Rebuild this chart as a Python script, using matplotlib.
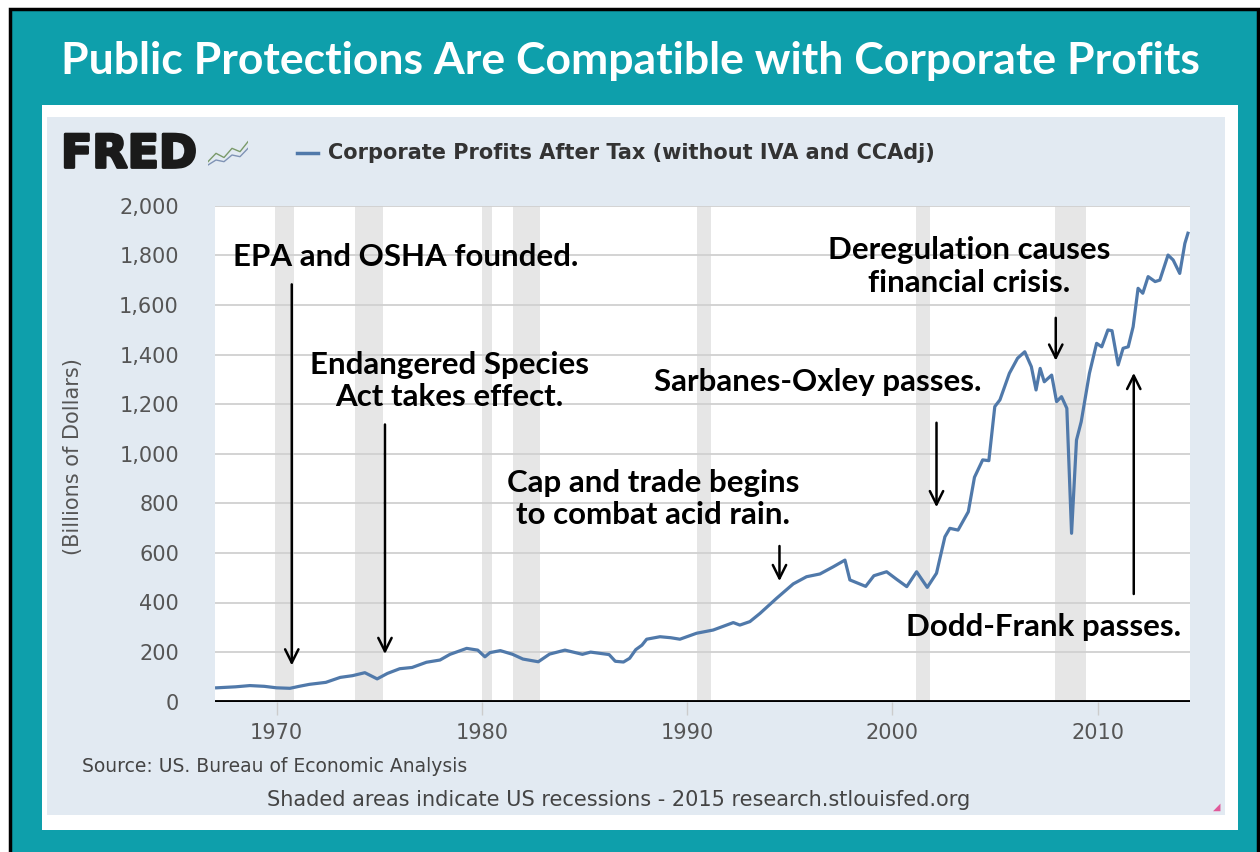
import matplotlib.pyplot as plt
import matplotlib.patheffects as pe
from matplotlib.patches import Rectangle

# corporate profits after tax, billions of dollars
years = [1967.08, 1968.0, 1968.7, 1969.4, 1970.0, 1970.65, 1971.1, 1971.6, 1972.4, 1973.1,
         1973.7, 1974.3, 1974.9, 1975.4, 1976.0, 1976.6, 1977.3, 1977.96, 1978.45, 1979.26,
         1979.8, 1980.15, 1980.4, 1980.9, 1981.5, 1982.0, 1982.75, 1983.3, 1984.05, 1984.9,
         1985.3, 1985.75, 1986.2, 1986.5, 1986.9, 1987.2, 1987.5, 1987.8, 1988.03, 1988.68,
         1989.2, 1989.65, 1990.46, 1991.27, 1992.25, 1992.57, 1993.06, 1993.55, 1994.36, 1995.17,
         1995.82, 1996.47, 1997.12, 1997.69, 1997.93, 1998.7, 1999.1, 1999.72, 2000.2, 2000.7,
         2001.18, 2001.7, 2002.15, 2002.56, 2002.8, 2003.2, 2003.7, 2004.0, 2004.4, 2004.7,
         2004.99, 2005.24, 2005.7, 2006.1, 2006.45, 2006.77, 2007.0, 2007.2, 2007.4, 2007.76,
         2008.0, 2008.24, 2008.5, 2008.73, 2008.97, 2009.2, 2009.6, 2009.95, 2010.2, 2010.5,
         2010.7, 2011.0, 2011.24, 2011.49, 2011.73, 2011.97, 2012.2, 2012.46, 2012.8, 2013.03,
         2013.43, 2013.68, 2014.0, 2014.25, 2014.4]
profits = [56, 60, 65, 62, 56, 54, 62, 70, 78, 98,
           105, 117, 92, 114, 133, 138, 159, 168, 191, 215,
           208, 181, 198, 206, 191, 172, 161, 192, 208, 191,
           200, 195, 190, 163, 160, 175, 210, 228, 252, 262,
           258, 252, 276, 289, 319, 309, 323, 356, 417, 475,
           504, 515, 544, 571, 491, 465, 508, 524, 494, 464,
           524, 461, 518, 665, 699, 692, 766, 905, 975, 972,
           1190, 1217, 1324, 1385, 1411, 1351, 1257, 1344, 1290, 1317,
           1210, 1230, 1183, 679, 1055, 1129, 1324, 1445, 1431, 1499,
           1496, 1358, 1425, 1431, 1512, 1667, 1647, 1714, 1694, 1700,
           1801, 1781, 1727, 1848, 1889]

# US recessions (start, end)
rec_start = [1969.92, 1973.83, 1980.0, 1981.5, 1990.5, 2001.17, 2007.92]
rec_end = [1970.83, 1975.17, 1980.5, 1982.83, 1991.17, 2001.83, 2009.42]

# annotations: text, text position (year, value), arrow start, arrow tip
notes = ['EPA and OSHA founded.', 'Endangered Species\nAct takes effect.',
         'Cap and trade begins\nto combat acid rain.', 'Sarbanes-Oxley passes.',
         'Deregulation causes\nfinancial crisis.', 'Dodd-Frank passes.']
note_xy = [(1976.3, 1794), (1978.4, 1293), (1988.33, 817), (1996.37, 1290), (2003.75, 1754), (2007.35, 302)]
arrow_from = [(1970.74, 1694), (1975.28, 1129), (1994.5, 639), (2002.15, 1136), (2007.96, 1559), (2011.76, 423)]
arrow_to = [(1970.74, 135), (1975.28, 181), (1994.5, 475), (2002.15, 773), (2007.96, 1364), (2011.76, 1337)]

W, H = 1260, 852
def fx(px):
    return px / W
def fy(py):
    return 1 - py / H

teal = '#0e9fab'
panel = '#e2eaf2'
line_col = '#5079aa'

fig = plt.figure(figsize=(12.6, 8.52), dpi=100)
fig.patch.set_facecolor('white')

# backgrounds
fig.patches.append(Rectangle((fx(10), -0.05), fx(1258) - fx(10), fy(9) + 0.05, transform=fig.transFigure,
                             facecolor=teal, edgecolor='black', linewidth=2.5, zorder=-10))
fig.patches.append(Rectangle((fx(42), fy(830)), fx(1238) - fx(42), fy(105) - fy(830), transform=fig.transFigure,
                             facecolor='white', edgecolor='none', zorder=-9))
fig.patches.append(Rectangle((fx(47), fy(815)), fx(1225) - fx(47), fy(117) - fy(815), transform=fig.transFigure,
                             facecolor=panel, edgecolor='none', zorder=-8))

fig.text(0.5, fy(61), 'Public Protections Are Compatible with Corporate Profits', ha='center', va='center',
         color='white', fontsize=32, fontweight='bold', family='Lato')

# FRED header
fig.text(fx(61), fy(155), 'FRED', ha='left', va='center', fontsize=33, fontweight='bold',
         color='#1a1a1a', family='DejaVu Sans',
         path_effects=[pe.withStroke(linewidth=2, foreground='#1a1a1a')])
icon = fig.add_axes([fx(208), fy(170), fx(40), fy(140) - fy(170)])
icon.set_facecolor('#dfe6dc')
icon.plot([0, 1, 2, 3, 4, 5], [1, 2, 1.5, 2.6, 2.2, 3.4], color='#7a9a6a', lw=1)
icon.plot([0, 1, 2, 3, 4, 5], [0.6, 1.2, 1.0, 1.8, 1.6, 2.6], color='#7f93b5', lw=1)
icon.set_xlim(0, 5)
icon.set_ylim(0, 3.6)
icon.axis('off')

fig.lines.append(plt.Line2D([fx(297), fx(318)], [fy(153), fy(153)], transform=fig.transFigure,
                            color=line_col, lw=2.5))
fig.text(fx(328), fy(153), 'Corporate Profits After Tax (without IVA and CCAdj)', ha='left', va='center',
         fontsize=15, fontweight='bold', color='#333333', family='DejaVu Sans')

# main chart
ax = fig.add_axes([fx(215), fy(701.7), fx(1190) - fx(215), fy(205.7) - fy(701.7)])
ax.set_facecolor('white')
for s, e in zip(rec_start, rec_end):
    ax.axvspan(s, e, color='#e6e6e6', lw=0, zorder=0.2)
ax.plot(years, profits, color=line_col, lw=2.3, zorder=3)
ax.axhline(0, color='black', lw=3.5, zorder=4)

ax.set_xlim(1967.0, 2014.5)
ax.set_ylim(0, 2000)
ax.set_yticks(range(0, 2001, 200))
ax.set_yticklabels(['{:,}'.format(v) for v in range(0, 2001, 200)])
ax.set_xticks([1970, 1980, 1990, 2000, 2010])
ax.yaxis.grid(True, color='#d0d0d0', lw=1.3)
ax.set_axisbelow(True)
for sp in ax.spines.values():
    sp.set_visible(False)
ax.tick_params(axis='y', length=0, pad=26, labelsize=15, labelcolor='#555555')
ax.tick_params(axis='x', length=9, width=1, color='#cccccc', pad=6, labelsize=15, labelcolor='#555555')

for t, xy, a0, a1 in zip(notes, note_xy, arrow_from, arrow_to):
    ax.text(xy[0], xy[1], t, ha='center', va='center', fontsize=22.5, fontweight='bold',
            family='Lato', color='black', linespacing=1.2, zorder=6)
    ax.annotate('', xy=a1, xytext=a0,
                arrowprops=dict(arrowstyle='->', color='black', lw=1.8, mutation_scale=24), zorder=6)

fig.text(fx(73), fy(457), '(Billions of Dollars)', rotation=90, ha='center', va='center',
         fontsize=15, color='#555555')
fig.text(fx(82), fy(767), 'Source: US. Bureau of Economic Analysis', ha='left', va='center',
         fontsize=13.5, color='#444444')
fig.text(fx(619), fy(800), 'Shaded areas indicate US recessions - 2015 research.stlouisfed.org', ha='center',
         va='center', fontsize=15, color='#444444')
fig.text(fx(1217), fy(807), '\u25e2', ha='center', va='center', fontsize=7, color='#e05a9a')

fig.savefig('out.png', dpi=100)
